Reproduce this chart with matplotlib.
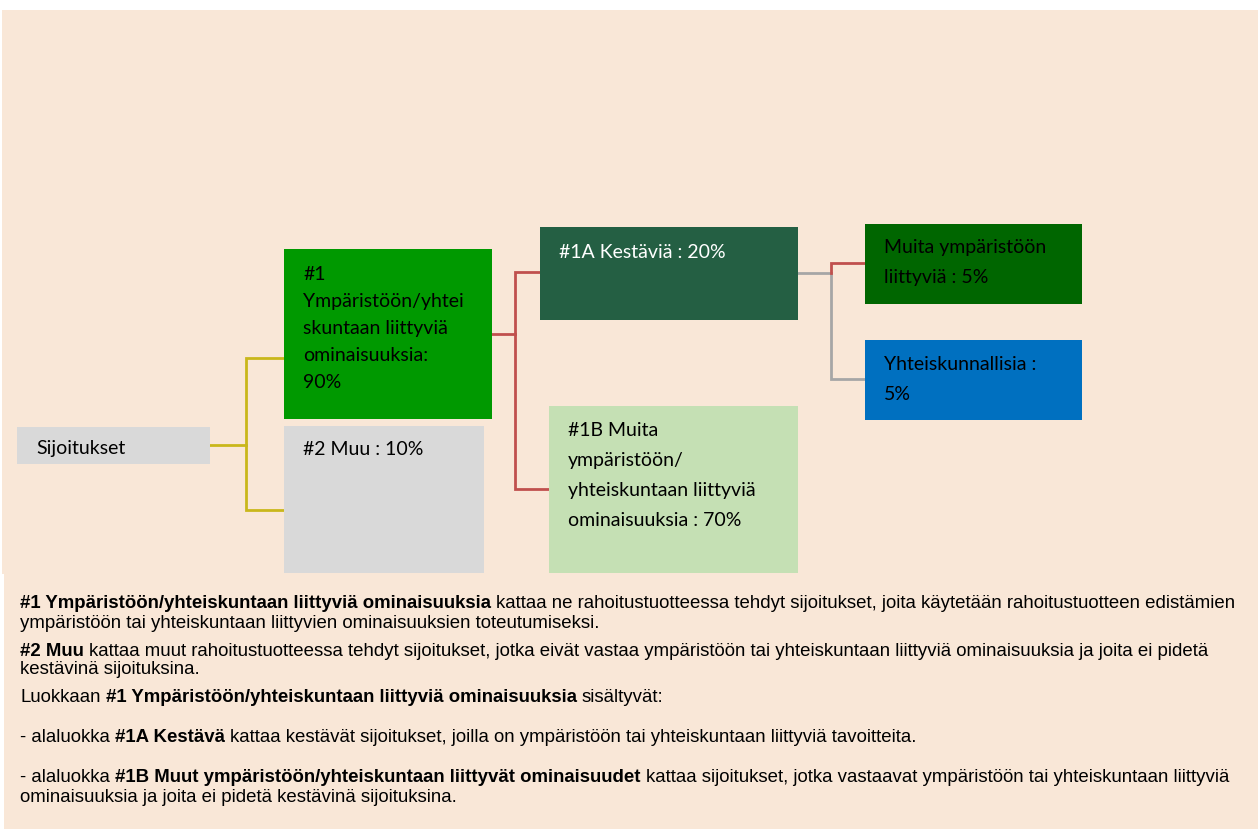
import matplotlib.pyplot as plt
from matplotlib.patches import Rectangle

# shares of the investments (%)
share_env_soc = 90
share_other = 10
share_sustainable = 20
share_other_env = 70
share_env = 5
share_social = 5

# node texts, one entry per text line in the box
node_text = {
    "sij": ["Sijoitukset"],
    "n1": ["#1", "Ympäristöön/yhtei", "skuntaan liittyviä", "ominaisuuksia:",
           "%d%%" % share_env_soc],
    "n2": ["#2 Muu : %d%%" % share_other],
    "n1a": ["#1A Kestäviä : %d%%" % share_sustainable],
    "n1b": ["#1B Muita", "ympäristöön/", "yhteiskuntaan liittyviä",
            "ominaisuuksia : %d%%" % share_other_env],
    "env": ["Muita ympäristöön", "liittyviä : %d%%" % share_env],
    "soc": ["Yhteiskunnallisia :", "%d%%" % share_social],
}

# explanation text under the diagram: lines made of (text, bold) runs
notes = [
    [("#1 Ympäristöön/yhteiskuntaan liittyviä ominaisuuksia", True),
     ("kattaa ne rahoitustuotteessa tehdyt sijoitukset, joita käytetään rahoitustuotteen edistämien", False)],
    [("ympäristöön tai yhteiskuntaan liittyvien ominaisuuksien toteutumiseksi.", False)],
    [("#2 Muu", True),
     ("kattaa muut rahoitustuotteessa tehdyt sijoitukset, jotka eivät vastaa ympäristöön tai yhteiskuntaan liittyviä ominaisuuksia ja joita ei pidetä", False)],
    [("kestävinä sijoituksina.", False)],
    [("Luokkaan", False), ("#1 Ympäristöön/yhteiskuntaan liittyviä ominaisuuksia", True),
     ("sisältyvät:", False)],
    [("- alaluokka", False), ("#1A Kestävä", True),
     ("kattaa kestävät sijoitukset, joilla on ympäristöön tai yhteiskuntaan liittyviä tavoitteita.", False)],
    [("- alaluokka", False), ("#1B Muut ympäristöön/yhteiskuntaan liittyvät ominaisuudet", True),
     ("kattaa sijoitukset, jotka vastaavat ympäristöön tai yhteiskuntaan liittyviä", False)],
    [("ominaisuuksia ja joita ei pidetä kestävinä sijoituksina.", False)],
]

# layout (pixels): x0, y0, x1, y1, fill, text colour, first line offset, line step
layout = {
    "sij": (17, 427, 210, 464, "#D9D9D9", "black", 21, 26),
    "n1": (284, 249, 492, 419, "#009900", "black", 25, 27),
    "n2": (284, 426, 484, 573, "#D9D9D9", "black", 23, 26),
    "n1a": (540, 227, 798, 320, "#245F43", "white", 25, 26),
    "n1b": (549, 406, 798, 573, "#C5E0B4", "black", 24, 30),
    "env": (865, 224, 1082, 304, "#006600", "black", 23, 30),
    "soc": (865, 340, 1082, 420, "#0070C0", "black", 24, 30),
}
connectors = [
    # points of each elbow line, colour
    ([(210, 445), (246, 445), (246, 358), (284, 358)], "#C9B71B"),
    ([(246, 445), (246, 510), (284, 510)], "#C9B71B"),
    ([(492, 334), (515, 334), (515, 272), (540, 272)], "#C0504D"),
    ([(515, 334), (515, 489), (549, 489)], "#C0504D"),
    ([(798, 273), (831, 273), (831, 379), (865, 379)], "#A6A6A6"),
    ([(831, 273), (831, 263), (865, 263)], "#C0504D"),
]
note_y = [604, 623, 651, 670, 698, 738, 778, 797]

W, H = 1258, 834
fig = plt.figure(figsize=(W / 100, H / 100), dpi=100)
ax = fig.add_axes([0, 0, 1, 1])
ax.set_xlim(0, W)
ax.set_ylim(H, 0)
ax.axis("off")

peach = "#F9E7D7"
ax.add_patch(Rectangle((2, 10), W - 2, 564, color=peach, lw=0))
ax.add_patch(Rectangle((4, 574), W - 4, 255, color=peach, lw=0))

for pts, col in connectors:
    xs = [p[0] for p in pts]
    ys = [p[1] for p in pts]
    ax.plot(xs, ys, color=col, lw=2, solid_joinstyle="miter", zorder=2)

for key, lines in node_text.items():
    x0, y0, x1, y1, fill, tcol, off, step = layout[key]
    ax.add_patch(Rectangle((x0, y0), x1 - x0, y1 - y0, color=fill, lw=0, zorder=3))
    for i, line in enumerate(lines):
        ax.text(x0 + 19, y0 + off + i * step, line, color=tcol, fontsize=14,
                family="Lato", va="center", ha="left", zorder=4)

fs = 13.4
space = 0.278 * fs
for y, runs in zip(note_y, notes):
    prev = None
    for txt, bold in runs:
        w = "bold" if bold else "normal"
        if prev is None:
            prev = ax.text(20, y, txt, fontsize=fs, family="Liberation Sans",
                           fontweight=w, va="center", ha="left")
        else:
            prev = ax.annotate(txt, xy=(1, 0), xycoords=prev, xytext=(space, 0),
                               textcoords="offset points", fontsize=fs,
                               family="Liberation Sans", fontweight=w,
                               va="bottom", ha="left")

fig.savefig("out.png", dpi=100, facecolor="white")
